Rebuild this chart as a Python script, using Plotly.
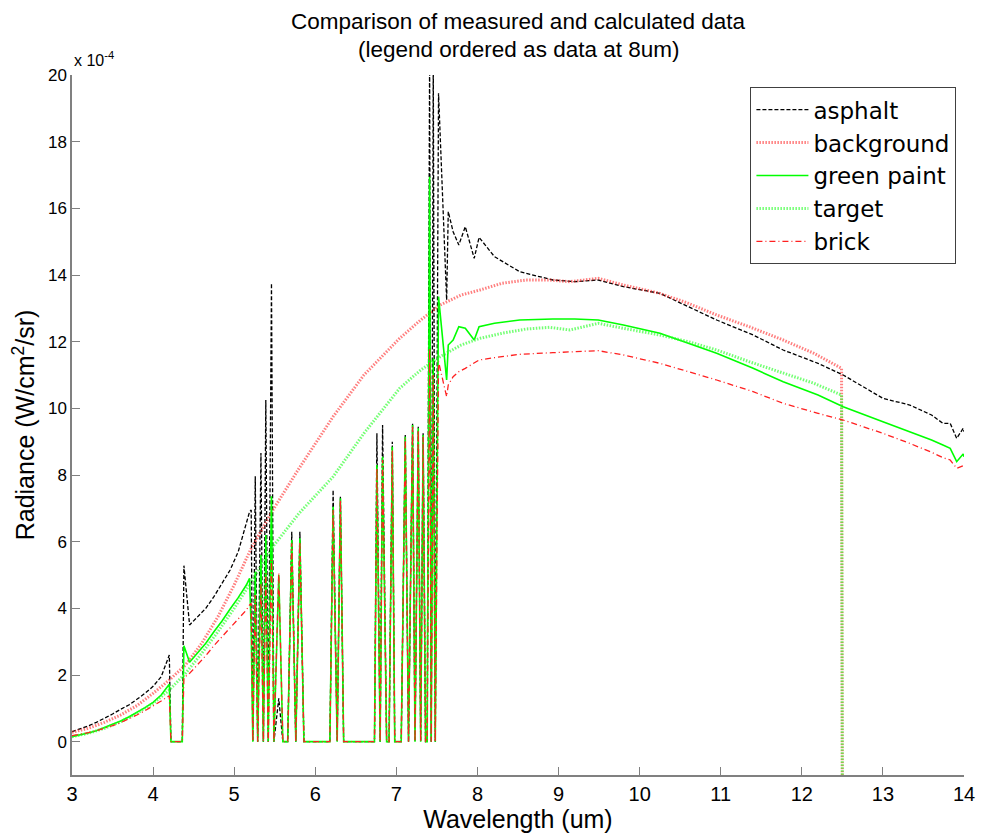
import plotly.graph_objects as go

# ---- measured data (shared wavelength grid) ----
wl_measured = [3.00, 3.10, 3.20, 3.30, 3.40, 3.50, 3.60, 3.70, 3.80, 3.90, 4.00, 4.10, 4.20,
               4.22, 4.36, 4.38, 4.45, 4.55, 4.65, 4.75, 4.85, 4.95, 5.05, 5.15, 5.19, 5.21,
               5.23, 5.26, 5.29, 5.33, 5.36, 5.39, 5.42, 5.46, 5.49, 5.55, 5.60, 5.66, 5.71,
               5.76, 5.81, 5.86, 6.18, 6.22, 6.27, 6.31, 6.35, 6.73, 6.76, 6.80, 6.83, 6.88,
               6.91, 6.95, 6.98, 7.06, 7.11, 7.15, 7.20, 7.23, 7.27, 7.30, 7.33, 7.36, 7.38,
               7.41, 7.43, 7.455, 7.48, 7.52, 7.62, 7.64, 7.70, 7.77, 7.85, 7.96, 8.02, 8.21,
               8.52, 8.93, 9.20, 9.49, 9.80, 10.25, 10.60, 10.95, 11.40, 11.77, 12.20, 12.51,
               13.00, 13.33, 13.60, 13.74, 13.83, 13.91, 13.99, 14.00]

asphalt = [0.30, 0.38, 0.47, 0.58, 0.70, 0.83, 0.97, 1.10, 1.27, 1.45, 1.66, 1.95, 2.60,
           0, 0, 5.28, 3.50, 3.75, 4.00, 4.35, 4.75, 5.15, 5.70, 6.60, 6.90, 6.95,
           0, 7.96, 0, 8.66, 0, 10.25, 0, 13.75, 0, 1.30, 0, 0, 6.30,
           0, 6.30, 0, 0, 7.55, 0, 7.35, 0, 0, 9.25, 0, 9.50, 0,
           0, 9.00, 0, 0, 9.20, 0, 9.55, 0, 9.45, 0, 9.25, 0, 0,
           20.5, 0, 20.5, 0, 19.45, 13.25, 15.90, 15.30, 14.90, 15.45, 14.50, 15.13, 14.55,
           14.10, 13.85, 13.80, 13.85, 13.65, 13.45, 13.05, 12.65, 12.20, 11.75, 11.35, 11.00,
           10.30, 10.10, 9.80, 9.55, 9.55, 9.10, 9.40, 9.30]

green_paint = [0.15, 0.20, 0.26, 0.33, 0.42, 0.51, 0.62, 0.74, 0.87, 1.02, 1.18, 1.40, 1.72,
               0, 0, 2.88, 2.38, 2.65, 2.95, 3.30, 3.62, 3.98, 4.32, 4.70, 4.90, 3.35,
               0, 5.10, 0, 5.60, 0, 6.20, 0, 7.36, 0, 5.00, 0, 0, 6.05,
               0, 6.10, 0, 0, 7.05, 0, 7.30, 0, 0, 8.30, 0, 8.55, 0,
               0, 8.85, 0, 0, 9.15, 0, 9.50, 0, 9.40, 0, 9.20, 0, 0,
               16.95, 0, 11.50, 0, 13.35, 10.85, 11.90, 12.05, 12.45, 12.40, 12.05, 12.45, 12.55,
               12.65, 12.68, 12.68, 12.65, 12.50, 12.25, 11.95, 11.65, 11.20, 10.80, 10.40, 10.05,
               9.60, 9.30, 9.05, 8.90, 8.80, 8.40, 8.63, 8.55]

brick = [0.18, 0.22, 0.27, 0.33, 0.40, 0.48, 0.57, 0.68, 0.80, 0.93, 1.07, 1.22, 1.38,
         0, 0, 1.92, 2.05, 2.30, 2.58, 2.88, 3.15, 3.40, 3.70, 3.95, 4.10, 4.15,
         0, 4.40, 0, 4.75, 0, 5.05, 0, 5.45, 0, 5.06, 0, 0, 5.95,
         0, 6.00, 0, 0, 6.95, 0, 7.25, 0, 0, 8.20, 0, 8.45, 0,
         0, 8.75, 0, 0, 9.10, 0, 9.45, 0, 9.35, 0, 9.15, 0, 0,
         11.80, 0, 11.00, 0, 11.40, 10.35, 10.70, 10.95, 11.10, 11.20, 11.35, 11.45, 11.52,
         11.62, 11.67, 11.70, 11.73, 11.60, 11.35, 11.10, 10.85, 10.50, 10.15, 9.85, 9.65,
         9.25, 8.95, 8.68, 8.52, 8.45, 8.20, 8.28, 8.25]

# ---- calculated data (shared wavelength grid) ----
wl_calculated = [3.0, 3.2, 3.4, 3.6, 3.8, 4.0, 4.2, 4.4, 4.6, 4.8, 5.0, 5.2, 5.48, 5.8,
                 6.22, 6.6, 7.04, 7.3, 7.54, 7.8, 8.03, 8.3, 8.6, 8.89, 9.14, 9.49, 9.8,
                 10.25, 10.6, 10.95, 11.35, 11.77, 12.15, 12.49, 12.5]

background = [0.28, 0.40, 0.58, 0.80, 1.08, 1.45, 1.85, 2.30, 2.95, 3.75, 4.70, 5.75, 6.96, 8.20,
              9.75, 11.00, 12.10, 12.65, 13.10, 13.40, 13.55, 13.75, 13.85, 13.85, 13.80, 13.90, 13.70,
              13.45, 13.15, 12.80, 12.45, 12.05, 11.65, 11.20, -2]

target = [0.15, 0.25, 0.40, 0.60, 0.85, 1.15, 1.55, 2.05, 2.65, 3.30, 4.00, 4.75, 5.86, 6.85,
          7.95, 9.25, 10.60, 11.15, 11.55, 11.90, 12.10, 12.25, 12.38, 12.43, 12.35, 12.55, 12.40,
          12.20, 12.00, 11.75, 11.40, 11.05, 10.75, 10.40, -2]

x_ticks = [3, 4, 5, 6, 7, 8, 9, 10, 11, 12, 13, 14]
y_ticks = [0, 2, 4, 6, 8, 10, 12, 14, 16, 18, 20]

fig = go.Figure()
fig.add_trace(go.Scatter(x=wl_measured, y=asphalt, name="asphalt", mode="lines",
                         line=dict(color="#000000", width=1.3, dash="4px,2px")))
fig.add_trace(go.Scatter(x=wl_calculated, y=background, name="background", mode="lines",
                         line=dict(color="rgba(255,40,40,0.6)", width=3, dash="1.5px,1.5px")))
fig.add_trace(go.Scatter(x=wl_measured, y=green_paint, name="green paint", mode="lines",
                         line=dict(color="#00ff00", width=1.6)))
fig.add_trace(go.Scatter(x=wl_calculated, y=target, name="target", mode="lines",
                         line=dict(color="rgba(40,255,40,0.65)", width=3, dash="1.5px,1.5px")))
fig.add_trace(go.Scatter(x=wl_measured, y=brick, name="brick", mode="lines",
                         line=dict(color="#ff2020", width=1.3, dash="6px,3px,1px,3px")))

axis_font = "Liberation Sans, Arial, sans-serif"

fig.update_layout(
    width=982, height=838,
    margin=dict(l=72, r=18, t=75, b=63, autoexpand=False),
    paper_bgcolor="white", plot_bgcolor="white",
    showlegend=True,
    legend=dict(x=0.9915, xanchor="right", y=0.9825, yanchor="top",
                bgcolor="white", bordercolor="#404040", borderwidth=1,
                font=dict(family="DejaVu Sans, Liberation Sans, sans-serif", size=23, color="#000000"),
                itemwidth=52, tracegroupgap=0),
    xaxis=dict(range=[3, 14], tickvals=x_ticks, ticktext=[str(v) for v in x_ticks],
               automargin=False,
               showgrid=False, zeroline=False, showline=True, linecolor="#808080", linewidth=1.5,
               ticks="inside", ticklen=8, tickcolor="#808080", tickwidth=1.2,
               tickfont=dict(family=axis_font, size=20, color="#000000"),
               title=dict(text="Wavelength (um)", standoff=6,
                          font=dict(family=axis_font, size=25, color="#000000"))),
    yaxis=dict(range=[-1, 20], tickvals=y_ticks, ticktext=[str(v) for v in y_ticks],
               automargin=False,
               showgrid=False, zeroline=False, showline=True, linecolor="#808080", linewidth=1.5,
               ticks="inside", ticklen=8, tickcolor="#808080", tickwidth=1.2,
               tickfont=dict(family=axis_font, size=17, color="#000000"),
               title=dict(text="Radiance (W/cm<sup>2</sup>/sr)", standoff=6,
                          font=dict(family=axis_font, size=25, color="#000000"))),
    annotations=[
        dict(text="Comparison of measured and calculated data", xref="paper", yref="paper",
             x=0.5, y=1.077, xanchor="center", yanchor="middle", showarrow=False,
             font=dict(family=axis_font, size=22.5, color="#000000")),
        dict(text="(legend ordered as data at 8um)", xref="paper", yref="paper",
             x=0.5, y=1.037, xanchor="center", yanchor="middle", showarrow=False,
             font=dict(family=axis_font, size=22.5, color="#000000")),
        dict(text="x 10<sup>-4</sup>", xref="paper", yref="paper",
             x=0.0, y=1.0, xanchor="left", yanchor="bottom", yshift=4, showarrow=False,
             font=dict(family=axis_font, size=16, color="#000000")),
    ],
)

fig.write_html("out.html", config={"displayModeBar": False},
               post_script="document.body.style.margin='0px';document.body.style.overflow='hidden';")
